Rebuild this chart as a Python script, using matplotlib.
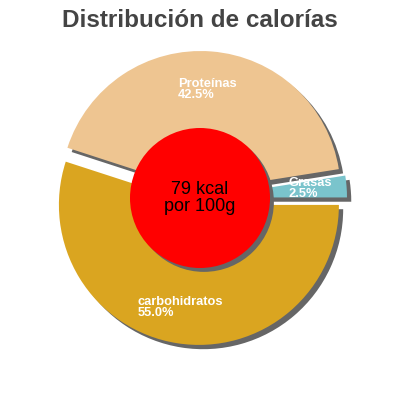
import matplotlib.pyplot as plt
from matplotlib.patches import Circle, Shadow

plt.rcParams['font.family'] = ['Liberation Sans', 'DejaVu Sans']

labels = ['Grasas', 'Proteínas', 'carbohidratos']
values = [2.5, 42.5, 55.0]
colors = ['#7AC4CC', '#EEC591', '#DAA520']
kcal = 79
title = 'Distribución de calorías'

# label anchors (data units, radius = 1)
label_pos = [(0.63, 0.15), (-0.157, 0.86), (-0.443, -0.70)]

fig = plt.figure(figsize=(4, 4), dpi=100)
ax = fig.add_axes([0, 0, 1, 1])

wedges, _ = ax.pie(values, colors=colors, startangle=0, counterclock=True,
                   explode=[0.05] * len(values), radius=1,
                   shadow={'ox': 0.022, 'oy': -0.022, 'facecolor': '#666666',
                           'edgecolor': 'none', 'alpha': 1})

for (x, y), lab, v in zip(label_pos, labels, values):
    ax.text(x, y, f'{lab}\n{v:.1f}%', color='white', fontsize=9.3,
            fontweight='bold', ha='left', va='top', linespacing=0.9, zorder=5)

c = Circle((0, 0), 0.5, facecolor='red', edgecolor='none', zorder=3)
ax.add_patch(c)
ax.add_patch(Shadow(c, 0.02, -0.02, facecolor='#666666', edgecolor='none', alpha=1, zorder=2.9))
ax.text(0, 0, f'{kcal} kcal\npor 100g', ha='center', va='center', fontsize=13,
        color='black', zorder=6, linespacing=1.0)

ax.set_aspect('equal')
ax.set_xlim(-200 / 140, 200 / 140)
ax.set_ylim(-202 / 140, 198 / 140)
ax.axis('off')

fig.text(0.5, 0.978, title, ha='center', va='top', fontsize=17.5,
         fontweight='bold', color='#444444')

fig.savefig('out.png', dpi=100)
